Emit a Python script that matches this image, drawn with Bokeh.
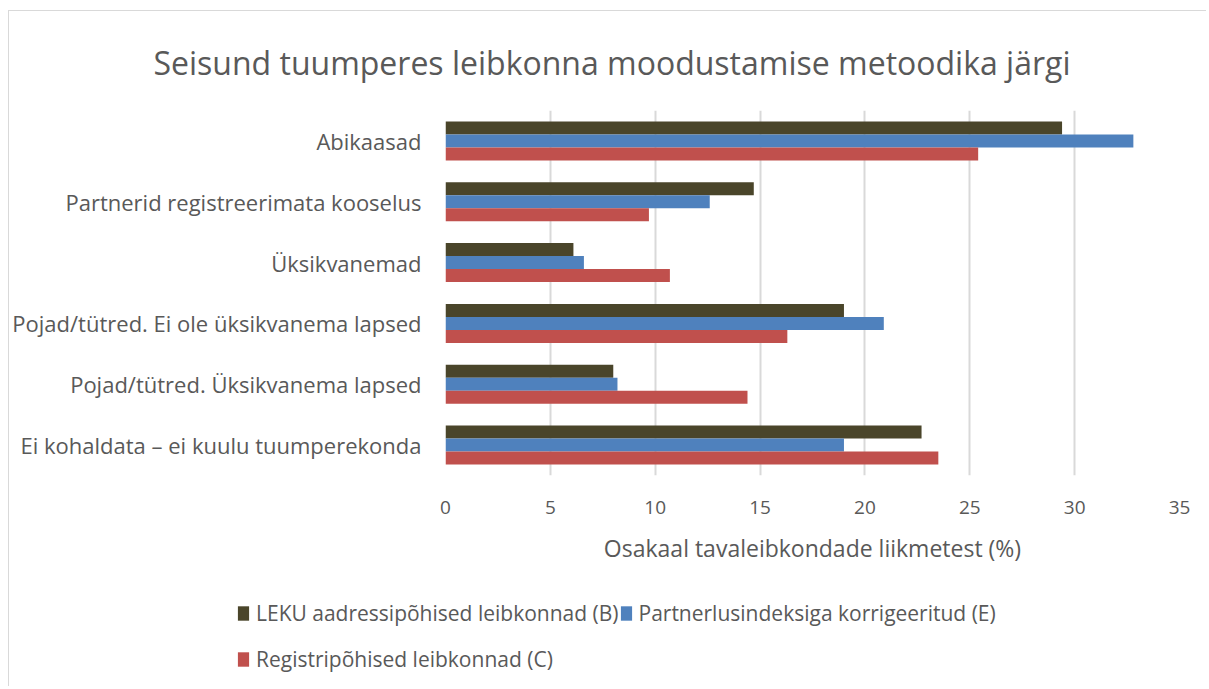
from bokeh.plotting import figure
from bokeh.models import ColumnDataSource, FactorRange, Range1d, FixedTicker, Legend, LegendItem
from bokeh.transform import dodge
from bokeh.embed import file_html
from bokeh.resources import INLINE

categories = [
    "Abikaasad",
    "Partnerid registreerimata kooselus",
    "Üksikvanemad",
    "Pojad/tütred. Ei ole üksikvanema lapsed",
    "Pojad/tütred. Üksikvanema lapsed",
    "Ei kohaldata – ei kuulu tuumperekonda",
]
leku_b = [29.4, 14.7, 6.1, 19.0, 8.0, 22.7]
partner_e = [32.8, 12.6, 6.6, 20.9, 8.2, 19.0]
register_c = [25.4, 9.7, 10.7, 16.3, 14.4, 23.5]
series_names = [
    "LEKU aadressipõhised leibkonnad (B)",
    "Partnerlusindeksiga korrigeeritud (E)",
    "Registripõhised leibkonnad (C)",
]
colors = ["#4a452a", "#4f81bd", "#c0504d"]
x_ticks = [0, 5, 10, 15, 20, 25, 30, 35]

FONT = "Open Sans"
GREY = "#595959"

src = ColumnDataSource(dict(cat=categories, B=leku_b, E=partner_e, C=register_c))

W = 1198
H_MAIN = 580
H_LEG = 96
p = figure(width=W, height=H_MAIN, output_backend="svg", toolbar_location=None,
           y_range=FactorRange(factors=list(reversed(categories))),
           x_range=Range1d(0, 35))
p.min_border_left = 433
p.min_border_right = W - 1170
p.min_border_top = 99
p.min_border_bottom = H_MAIN - 464
p.styles = {"border-left": "1px solid #d9d9d9", "border-top": "1px solid #d9d9d9",
            "margin-left": "8px", "margin-top": "10px"}

p.title.text = "Seisund tuumperes leibkonna moodustamise metoodika järgi"
p.title.align = "left"
p.title.offset = -292
p.title.text_font = FONT
p.title.text_font_size = "32px"
p.title.text_font_style = "normal"
p.title.text_color = GREY
p.title.standoff = 54

h = 0.214
r1 = p.hbar(y=dodge("cat", h, range=p.y_range), right="B", left=0, height=h, source=src,
            color=colors[0], line_color=None)
r2 = p.hbar(y=dodge("cat", 0, range=p.y_range), right="E", left=0, height=h, source=src,
            color=colors[1], line_color=None)
r3 = p.hbar(y=dodge("cat", -h, range=p.y_range), right="C", left=0, height=h, source=src,
            color=colors[2], line_color=None)

p.outline_line_color = None
p.ygrid.grid_line_color = None
p.xgrid.grid_line_color = "#d9d9d9"
p.xgrid.grid_line_width = 2
p.xaxis.ticker = FixedTicker(ticks=x_ticks)
p.xaxis.axis_line_color = None
p.xaxis.major_tick_line_color = None
p.xaxis.minor_tick_line_color = None
p.xaxis.major_label_text_font = FONT
p.xaxis.major_label_text_font_size = "19px"
p.xaxis.major_label_text_color = GREY
p.xaxis.major_label_standoff = 19
p.xaxis.axis_label = "Osakaal tavaleibkondade liikmetest (%)"
p.xaxis.axis_label_text_font = FONT
p.xaxis.axis_label_text_font_size = "23px"
p.xaxis.axis_label_text_font_style = "normal"
p.xaxis.axis_label_text_color = GREY
p.xaxis.axis_label_standoff = 15

p.yaxis.axis_line_color = None
p.yaxis.major_tick_line_color = None
p.yaxis.minor_tick_line_color = None
p.yaxis.major_label_text_font = FONT
p.yaxis.major_label_text_font_size = "22px"
p.yaxis.major_label_text_color = GREY
p.yaxis.major_label_standoff = 18

# legend figure (separate root, so its frame starts at its left edge)
lg = figure(width=W, height=H_LEG, output_backend="svg", toolbar_location=None,
            x_range=Range1d(0, 1), y_range=Range1d(0, 1))
lg.min_border = 0
lg.axis.visible = False
lg.grid.visible = False
lg.outline_line_color = None
lg.styles = {"border-left": "1px solid #d9d9d9", "margin-left": "8px"}
dummy_src = ColumnDataSource(dict(y=[-5], right=[-5]))
dummies = [lg.hbar(y="y", right="right", height=0.1, source=dummy_src, color=c, line_color=None)
           for c in colors]


def make_legend(items, loc):
    leg = Legend(items=items, orientation="horizontal", location=loc)
    leg.glyph_width = 14
    leg.glyph_height = 18
    leg.label_text_font = FONT
    leg.label_text_font_size = "21px"
    leg.label_text_color = GREY
    leg.spacing = -4
    leg.label_standoff = 6
    leg.padding = 0
    leg.margin = 0
    leg.border_line_color = None
    leg.background_fill_alpha = 0
    leg.label_height = 22
    return leg


leg1 = make_legend([LegendItem(label=series_names[0], renderers=[dummies[0]]),
                    LegendItem(label=series_names[1], renderers=[dummies[1]])], (227, 59))
leg2 = make_legend([LegendItem(label=series_names[2], renderers=[dummies[2]])], (227, 13))
lg.add_layout(leg1, "center")
lg.add_layout(leg2, "center")

open("out.html", "w").write(file_html([p, lg], INLINE))
